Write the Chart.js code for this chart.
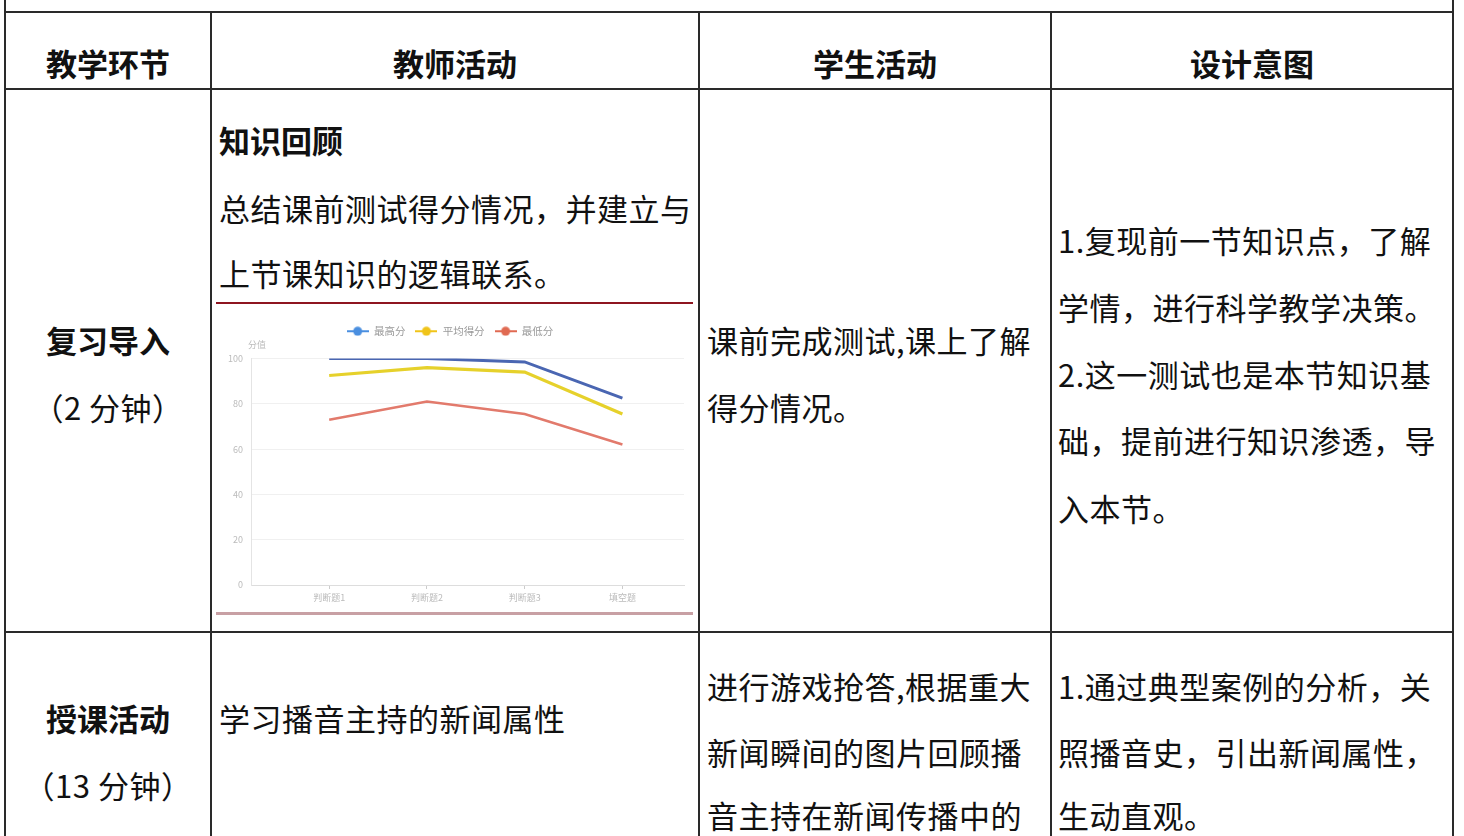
<!DOCTYPE html>
<html><head><meta charset="utf-8">
<script src="https://cdn.jsdelivr.net/npm/chart.js@4"></script>
<style>
html,body{margin:0;padding:0;background:#fff;width:1464px;height:836px;overflow:hidden;}
body{position:relative;font-family:"Noto Sans CJK SC","Noto Sans",sans-serif;color:#111;}
.v{position:absolute;width:2px;background:#2a2a2a;}
.h{position:absolute;height:2px;background:#2a2a2a;}
.t{position:absolute;font-size:31px;line-height:34px;white-space:nowrap;letter-spacing:0.5px;}
.b{font-weight:700;letter-spacing:0;}
.c{text-align:center;}
#chartBox{position:absolute;left:216px;top:302px;width:477px;height:313px;box-sizing:border-box;border-top:2px solid #8e1520;border-bottom:3px solid #c8a0a4;background:#fff;}
#chartWrap{position:relative;width:100%;height:100%;}
#yname{position:absolute;left:248px;top:339px;font-size:9px;line-height:12px;color:#bbb;font-family:"Noto Sans CJK SC",sans-serif;}
</style></head>
<body>
<!-- borders -->
<div class="v" style="left:4px;top:0;height:836px"></div>
<div class="v" style="left:210px;top:12px;height:824px"></div>
<div class="v" style="left:698px;top:12px;height:824px"></div>
<div class="v" style="left:1050px;top:12px;height:824px"></div>
<div class="v" style="left:1452px;top:0;height:836px"></div>
<div class="h" style="left:4px;top:11px;width:1450px"></div>
<div class="h" style="left:4px;top:88px;width:1450px"></div>
<div class="h" style="left:4px;top:631px;width:1450px"></div>

<!-- header -->
<div class="t b c" style="left:6px;width:204px;top:46px">教学环节</div>
<div class="t b c" style="left:212px;width:486px;top:46px">教师活动</div>
<div class="t b c" style="left:700px;width:350px;top:46px">学生活动</div>
<div class="t b c" style="left:1052px;width:400px;top:46px">设计意图</div>

<!-- row 2 -->
<div class="t b c" style="left:6px;width:204px;top:323px">复习导入</div>
<div class="t c" style="left:6px;width:204px;top:390px">（2 分钟）</div>
<div class="t b" style="left:219px;top:123px">知识回顾</div>
<div class="t" style="left:219px;top:191px">总结课前测试得分情况，并建立与</div>
<div class="t" style="left:219px;top:256px">上节课知识的逻辑联系。</div>
<div id="chartBox"><div id="chartWrap"><canvas id="c"></canvas></div></div>
<div id="yname">分值</div>
<div class="t" style="left:707px;top:323px">课前完成测试,课上了解</div>
<div class="t" style="left:707px;top:390px">得分情况。</div>
<div class="t" style="left:1058px;top:223px">1.复现前一节知识点，了解</div>
<div class="t" style="left:1058px;top:290px">学情，进行科学教学决策。</div>
<div class="t" style="left:1058px;top:357px">2.这一测试也是本节知识基</div>
<div class="t" style="left:1058px;top:423px">础，提前进行知识渗透，导</div>
<div class="t" style="left:1058px;top:491px">入本节。</div>

<!-- row 3 -->
<div class="t b c" style="left:6px;width:204px;top:701px">授课活动</div>
<div class="t c" style="left:6px;width:204px;top:768px">（13 分钟）</div>
<div class="t" style="left:219px;top:701px">学习播音主持的新闻属性</div>
<div class="t" style="left:707px;top:669px">进行游戏抢答,根据重大</div>
<div class="t" style="left:707px;top:735px">新闻瞬间的图片回顾播</div>
<div class="t" style="left:707px;top:798px">音主持在新闻传播中的</div>
<div class="t" style="left:1058px;top:669px">1.通过典型案例的分析，关</div>
<div class="t" style="left:1058px;top:735px">照播音史，引出新闻属性，</div>
<div class="t" style="left:1058px;top:798px">生动直观。</div>

<script>
const categories = ['判断题1', '判断题2', '判断题3', '填空题'];
const seriesNames = ['最高分', '平均得分', '最低分'];
const highest = [100, 100, 98.5, 82.5];
const average = [92.5, 96, 94, 75.5];
const lowest = [73, 81, 75.5, 62];
const yTickStep = 20;

function legendIcon(color) {
  const c = document.createElement('canvas');
  c.width = 22; c.height = 10;
  const g = c.getContext('2d');
  g.strokeStyle = color; g.lineWidth = 2;
  g.beginPath(); g.moveTo(0, 5); g.lineTo(22, 5); g.stroke();
  g.fillStyle = color;
  g.beginPath(); g.arc(11, 5, 4.5, 0, Math.PI * 2); g.fill();
  return c;
}
const toPts = arr => arr.map((v, i) => ({ x: i, y: v }));
const FONT = '"Noto Sans CJK SC", sans-serif';

// leaves room below the legend for the axis name, like the original
const legendGap = {
  id: 'legendGap',
  afterInit(chart) {
    const lg = chart.legend;
    if (!lg) return;
    const orig = lg.fit.bind(lg);
    lg.fit = function () { orig(); this.height += 12; };
  }
};

new Chart(document.getElementById('c'), {
  type: 'line',
  plugins: [legendGap],
  data: {
    datasets: [
      { label: seriesNames[0], data: toPts(highest), borderColor: '#4a66b2', backgroundColor: '#4a90e2', borderWidth: 3, pointRadius: 0, pointStyle: legendIcon('#4a8fe0'), tension: 0 },
      { label: seriesNames[1], data: toPts(average), borderColor: '#e6d12b', backgroundColor: '#f0c419', borderWidth: 3.2, pointRadius: 0, pointStyle: legendIcon('#f0c419'), tension: 0 },
      { label: seriesNames[2], data: toPts(lowest), borderColor: '#e27a6c', backgroundColor: '#e06a52', borderWidth: 2.6, pointRadius: 0, pointStyle: legendIcon('#e06a52'), tension: 0 }
    ]
  },
  options: {
    responsive: true,
    maintainAspectRatio: false,
    animation: false,
    layout: { padding: { top: 12, right: 9, left: 0, bottom: 0 } },
    plugins: {
      tooltip: { enabled: false },
      legend: {
        position: 'top',
        labels: { usePointStyle: true, pointStyleWidth: 22, boxHeight: 10, padding: 10, color: '#999', font: { size: 10.5, family: FONT } }
      }
    },
    scales: {
      x: {
        type: 'linear', min: -0.8, max: 3.63,
        afterBuildTicks: s => { s.ticks = categories.map((_, i) => ({ value: i })); },
        afterFit: s => { s.height = 27; },
        ticks: { callback: v => categories[v], color: '#bbb', font: { size: 9, family: FONT }, padding: 3, autoSkip: false, maxRotation: 0 },
        grid: { drawOnChartArea: false, drawTicks: true, tickLength: 4, color: '#ccc' },
        border: { color: '#ddd' }
      },
      y: {
        min: 0, max: 100,
        afterFit: s => { s.width = 35; },
        ticks: { stepSize: yTickStep, color: '#bbb', font: { size: 9, family: FONT }, padding: 8 },
        grid: { color: '#f0f0f0', drawTicks: false },
        border: { color: '#e4e4e4' }
      }
    }
  }
});
</script>
</body></html>
